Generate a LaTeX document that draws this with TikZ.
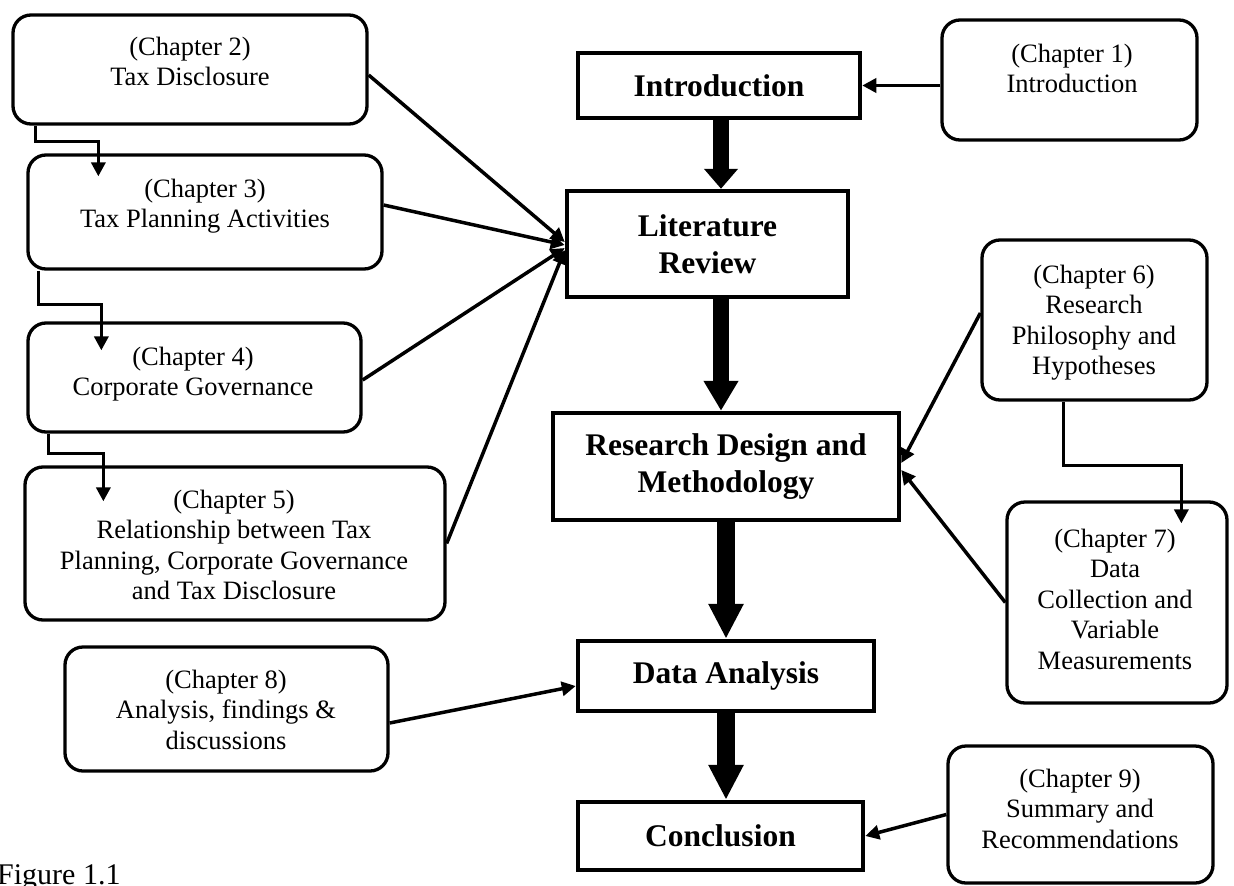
\documentclass[tikz,border=0pt]{standalone}
\usepackage{fontspec}
\setmainfont{Liberation Serif}
\usetikzlibrary{arrows.meta}

\tikzset{
  chbox/.style={draw, line width=3.3pt, rounded corners=18pt, inner sep=0pt},
  chtext/.style={align=center, inner sep=0pt, anchor=north,
    font=\fontsize{26.5pt}{30.5pt}\selectfont},
  mainbox/.style={draw, line width=4.5pt, inner sep=0pt, align=center,
    font=\bfseries\fontsize{31.5pt}{37pt}\selectfont},
  link/.style={line width=3.5pt, -{Triangle[length=14pt,width=14pt]}},
  bigarrow/.style={line width=16pt, -{Triangle[length=#1,width=33pt]}},
}

\begin{document}
\begin{tikzpicture}[x=1pt, y=-1pt]
\useasboundingbox (0,0) rectangle (1234,886);

% central chain of parts
\node[mainbox, minimum width=282pt, minimum height=65pt]  (intro) at (719,85.5)  {Introduction};
\node[mainbox, minimum width=281pt, minimum height=106pt] (lit)   at (707.5,244) {Literature\\Review};
\node[mainbox, minimum width=346pt, minimum height=107pt] (rdm)   at (726,466.5) {Research Design and\\Methodology};
\node[mainbox, minimum width=296pt, minimum height=70pt]  (da)    at (726,676)   {Data Analysis};
\node[mainbox, minimum width=285pt, minimum height=68pt]  (conc)  at (720.5,836) {Conclusion};

% chapter boxes
\node[chbox, minimum width=255pt, minimum height=120pt] (c1) at (1069.5,80)  {};
\node[chbox, minimum width=354pt, minimum height=109pt] (c2) at (190,69.5)   {};
\node[chbox, minimum width=354pt, minimum height=114pt] (c3) at (205,212)    {};
\node[chbox, minimum width=333pt, minimum height=109pt] (c4) at (194.5,377.5){};
\node[chbox, minimum width=420pt, minimum height=153pt] (c5) at (235,543.5)  {};
\node[chbox, minimum width=225pt, minimum height=160pt] (c6) at (1094.5,320) {};
\node[chbox, minimum width=220pt, minimum height=201pt] (c7) at (1117,602.5) {};
\node[chbox, minimum width=323pt, minimum height=124pt] (c8) at (226.5,709)  {};
\node[chbox, minimum width=265pt, minimum height=137pt] (c9) at (1080.5,814.5){};

% chapter texts
\node[chtext] (t1) at (1072,43.8)  {(Chapter 1)\\Introduction};
\node[chtext] (t2) at (190,36.8)   {(Chapter 2)\\Tax Disclosure};
\node[chtext] (t3) at (205,178.8)  {(Chapter 3)\\Tax Planning Activities};
\node[chtext] (t4) at (193,346.8)  {(Chapter 4)\\Corporate Governance};
\node[chtext] (t5) at (234,489.8)  {(Chapter 5)\\Relationship between Tax\\Planning, Corporate Governance\\and Tax Disclosure};
\node[chtext] (t6) at (1094,264.8) {(Chapter 6)\\Research\\Philosophy and\\Hypotheses};
\node[chtext] (t7) at (1115,528.8) {(Chapter 7)\\Data\\Collection and\\Variable\\Measurements};
\node[chtext] (t8) at (226,669.8)  {(Chapter 8)\\Analysis, findings \&\\discussions};
\node[chtext] (t9) at (1080,768.8) {(Chapter 9)\\Summary and\\Recommendations};

% caption
\node[anchor=base west, inner sep=0pt, font=\fontsize{30pt}{35pt}\selectfont] (fig) at (-3,884) {Figure 1.1};

% main flow arrows
\draw[bigarrow=20pt] ([xshift=2pt]intro.south) -- ([xshift=2pt]intro.south |- lit.north);
\draw[bigarrow=30pt] ([xshift=13.5pt]lit.south) -- ([xshift=13.5pt]lit.south |- rdm.north);
\draw[bigarrow=35pt, line width=18pt] (rdm.south) -- (rdm.south |- da.north);
\draw[bigarrow=35pt, line width=18pt] (da.south) -- (da.south |- conc.north);

% chapters feeding the parts
\draw[link] (c1.west |- intro.east) -- (intro.east);
\draw[link] ([yshift=-5.5pt]c2.east) -- ([yshift=2pt]lit.west);
\draw[link] ([yshift=7pt]c3.east)    -- ([yshift=-1pt]lit.west);
\draw[link] ([yshift=-2.5pt]c4.east) -- ([yshift=-4pt]lit.west);
\draw[link] (c5.east)                -- ([yshift=-6pt]lit.west);
\draw[link] ([yshift=7pt]c6.west)    -- ([yshift=3.5pt]rdm.east);
\draw[link] (c7.west)                -- ([yshift=-3.5pt]rdm.east);
\draw[link] ([yshift=-14pt]c8.east)  -- ([yshift=-10pt]da.west);
\draw[link] (c9.west)                -- (conc.east);

% chapter-to-chapter elbows
\draw[link] ([xshift=24pt]c2.south west) -- ++(0,16)
  -| ([xshift=72pt,yshift=-23pt]c3.north west);
\draw[link] ([xshift=12pt]c3.south west) -- ++(0,34)
  -| ([xshift=75pt,yshift=-29pt]c4.north west);
\draw[link] ([xshift=22pt]c4.south west) -- ++(0,20)
  -| ([xshift=80pt,yshift=-36pt]c5.north west);
\draw[link] ([xshift=83pt]c6.south west) -- ++(0,64)
  -| ([xshift=176pt,yshift=-23pt]c7.north west);
\end{tikzpicture}
\end{document}
